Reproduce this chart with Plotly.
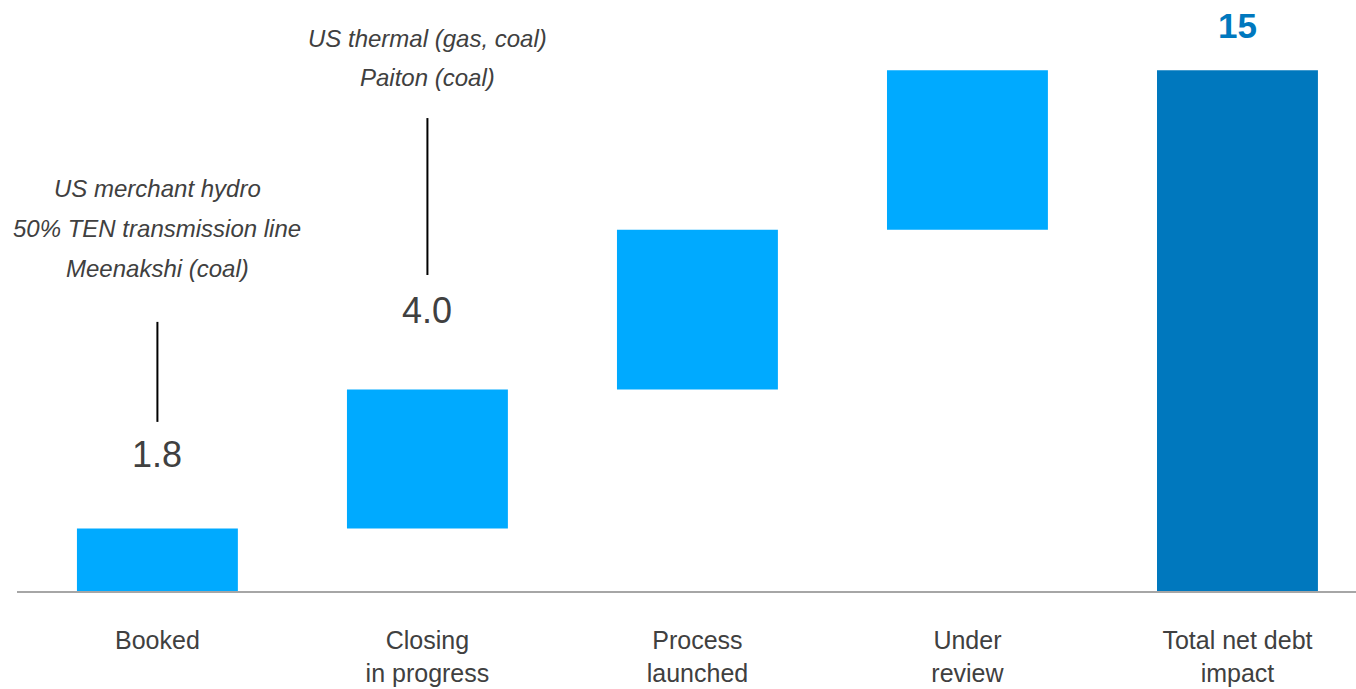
import plotly.graph_objects as go

categories = ["Booked", "Closing<br>in progress", "Process<br>launched", "Under<br>review", "Total net debt<br>impact"]
measures = ["relative", "relative", "relative", "relative", "total"]
values = [1.8, 4.0, 4.6, 4.6, 15]
notes_booked = ["US merchant hydro", "50% TEN transmission line", "Meenakshi (coal)"]
notes_closing = ["US thermal (gas, coal)", "Paiton (coal)"]

LIGHT = "#00AAFF"
DARK = "#0078BE"
TEXT = "#404040"
FONT = "Liberation Sans"

fig = go.Figure(go.Waterfall(
    x=categories,
    y=values,
    measure=measures,
    width=[0.596] * len(values),
    increasing=dict(marker=dict(color=LIGHT, line=dict(width=0))),
    totals=dict(marker=dict(color=DARK, line=dict(width=0))),
    connector=dict(visible=False),
    textinfo="none",
    hoverinfo="x+y",
))

ann = []
# value labels
ann.append(dict(x=categories[0], y=3.92, text=f"{values[0]:.1f}", showarrow=False,
                font=dict(size=36, color=TEXT, family=FONT)))
ann.append(dict(x=categories[1], y=8.09, text=f"{values[1]:.1f}", showarrow=False,
                font=dict(size=36, color=TEXT, family=FONT)))
ann.append(dict(x=categories[4], y=16.30, text=f"<b>{values[4]:.0f}</b>", showarrow=False,
                font=dict(size=35, color=DARK, family=FONT)))
# italic notes
for t, yy in zip(notes_booked, [11.60, 10.45, 9.30]):
    ann.append(dict(x=categories[0], y=yy, text=f"<i>{t}</i>", showarrow=False,
                    font=dict(size=24, color=TEXT, family=FONT)))
for t, yy in zip(notes_closing, [15.92, 14.80]):
    ann.append(dict(x=categories[1], y=yy, text=f"<i>{t}</i>", showarrow=False,
                    font=dict(size=24, color=TEXT, family=FONT)))

shapes = [
    dict(type="line", xref="x", yref="y", x0=categories[0], x1=categories[0], y0=4.87, y1=7.75,
         line=dict(color="black", width=2)),
    dict(type="line", xref="x", yref="y", x0=categories[1], x1=categories[1], y0=9.10, y1=13.62,
         line=dict(color="black", width=2)),
]

fig.update_layout(
    width=1356, height=689,
    margin=dict(l=17, r=0, t=0, b=98),
    paper_bgcolor="white", plot_bgcolor="white",
    showlegend=False,
    annotations=ann,
    shapes=shapes,
    font=dict(family=FONT, color=TEXT),
)
fig.update_xaxes(
    type="category",
    range=[-0.52, 4.439],
    automargin=False,
    showline=True, linecolor="#A6A6A6", linewidth=2,
    showgrid=False, zeroline=False, ticks="",
    tickfont=dict(size=25, color=TEXT, family=FONT),
    ticklabelstandoff=26,
)
fig.update_yaxes(range=[0, 17.02], visible=False, showgrid=False, zeroline=False, automargin=False)

fig.write_html("out.html")
